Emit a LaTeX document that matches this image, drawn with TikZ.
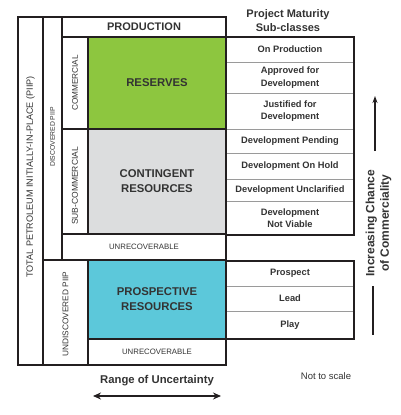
\documentclass[tikz,border=0pt]{standalone}
\usepackage{fontspec}
\setmainfont{Liberation Sans}
\usetikzlibrary{arrows.meta}
\definecolor{ink}{HTML}{231F20}
\definecolor{txt}{HTML}{333333}
\definecolor{resgreen}{HTML}{8DC63F}
\definecolor{congray}{HTML}{DCDDDE}
\definecolor{procyan}{HTML}{5CC8DA}
\definecolor{rowrule}{HTML}{9A9A9A}
\begin{document}
\begin{tikzpicture}[x=1pt,y=-1pt,
  frame/.style={draw=ink, line width=1.5pt, inner sep=0pt, outer sep=0pt, anchor=north west, text=txt, align=center},
  row/.style={draw=rowrule, line width=0.6pt, inner sep=0pt, outer sep=0pt, anchor=north west, minimum width=128pt, text=txt, align=center, font=\bfseries\fontsize{9.3}{12.5}\selectfont},
  vlabel/.style={rotate=90, text=txt, inner sep=0pt, font=\fontsize{8.3}{10}\selectfont},
  bigtxt/.style={font=\bfseries\fontsize{11.3}{15}\selectfont},
  smalltxt/.style={font=\fontsize{7.8}{9}\selectfont},
  arr/.style={draw=ink, line width=1.5pt}
]
\useasboundingbox (0,0) rectangle (400,415);

% right table rows (upper)
\node[row, minimum height=25pt] (r1) at (226,37) {On Production};
\node[row, minimum height=31pt] (r2) at (226,62) {Approved for\\Development};
\node[row, minimum height=36pt] (r3) at (226,93) {Justified for\\Development};
\node[row, minimum height=24pt] (r4) at (226,129) {Development Pending};
\node[row, minimum height=26pt] (r5) at (226,153) {Development On Hold};
\node[row, minimum height=22pt] (r6) at (226,179) {Development Unclarified};
\node[row, minimum height=34pt] (r7) at (226,201) {Development\\Not Viable};
\node[frame, draw=ink, minimum width=128pt, minimum height=198pt] (rtab1) at (226,37) {};

% right table rows (lower)
\node[row, minimum height=25pt] (p1) at (226,261) {Prospect};
\node[row, minimum height=25pt] (p2) at (226,286) {\raisebox{-3pt}{Lead}};
\node[row, minimum height=28pt] (p3) at (226,311) {\raisebox{-1pt}{Play}};
\node[frame, minimum width=128pt, minimum height=78pt] (rtab2) at (226,261) {};

% left frame
\node[frame, minimum width=208pt, minimum height=348pt] (outer) at (18,17) {};
\node[frame, minimum width=25pt, minimum height=348pt] (coltotal) at (18,17) {};
\node[frame, minimum width=19pt, minimum height=243pt] (coldisc) at (43,17) {};
\node[frame, minimum width=164pt, minimum height=20pt, font=\bfseries\fontsize{11}{13}\selectfont] (prod) at (62,17) {PRODUCTION};
\node[frame, minimum width=26pt, minimum height=92pt] (comm) at (62,37) {};
\node[frame, fill=resgreen, minimum width=138pt, minimum height=92pt, bigtxt] (res) at (88,37) {RESERVES};
\node[frame, minimum width=26pt, minimum height=105pt] (subcomm) at (62,129) {};
\node[frame, fill=congray, minimum width=138pt, minimum height=105pt, bigtxt] (cont) at (88,129) {CONTINGENT\\RESOURCES};
\node[frame, minimum width=164pt, minimum height=26pt, smalltxt] (unrec1) at (62,234) {UNRECOVERABLE};
\node[frame, minimum width=45pt, minimum height=105pt] (undisc) at (43,260) {};
\node[frame, fill=procyan, minimum width=138pt, minimum height=79pt, bigtxt] (prosp) at (88,260) {PROSPECTIVE\\RESOURCES};
\node[frame, minimum width=138pt, minimum height=26pt, smalltxt] (unrec2) at (88,339) {UNRECOVERABLE};

% rotated labels
\node[vlabel, font=\fontsize{9.1}{10}\selectfont] (ltotal) at (coltotal.center |- 0,177) {TOTAL PETROLEUM INITIALLY-IN-PLACE (PIIP)};
\node[vlabel, font=\fontsize{6.8}{8}\selectfont] (ldisc) at (coldisc.center |- 0,137) {DISCOVERED PIIP};
\node[vlabel, font=\fontsize{8.2}{10}\selectfont] (lcomm) at (comm.center) {COMMERCIAL};
\node[vlabel, font=\fontsize{8.5}{10}\selectfont] (lsub) at (subcomm.center |- 0,186) {SUB-COMMERCIAL};
\node[vlabel] (lundisc) at (undisc.center |- 0,314) {UNDISCOVERED PIIP};

% headers and notes
\node[text=txt, align=center, font=\bfseries\fontsize{11}{14}\selectfont] (hdr) at (288,21) {Project Maturity\\Sub-classes};
\node[text=txt, font=\bfseries\fontsize{11.3}{14}\selectfont] (range) at (157,381) {Range of Uncertainty};
\node[text=txt, font=\fontsize{9.5}{11}\selectfont] (nts) at (326,376) {Not to scale};
\node[text=txt, rotate=90, align=center, font=\bfseries\fontsize{12}{14.5}\selectfont] (incr) at (378.5,223) {Increasing Chance\\of Commerciality};

% arrows
\coordinate (ru1) at (93,396);
\coordinate (ru2) at (221,396);
\draw[arr, {Stealth[length=8pt,width=7pt]}-{Stealth[length=8pt,width=7pt]}] (ru1) -- (ru2);
\coordinate (ca1) at (375,151);
\coordinate (ca2) at (375,96);
\draw[arr, -{Stealth[length=7pt,width=5pt]}] (ca1) -- (ca2);
\coordinate (cb1) at (373,286);
\coordinate (cb2) at (373,335);
\draw[arr] (cb1) -- (cb2);
\end{tikzpicture}
\end{document}
